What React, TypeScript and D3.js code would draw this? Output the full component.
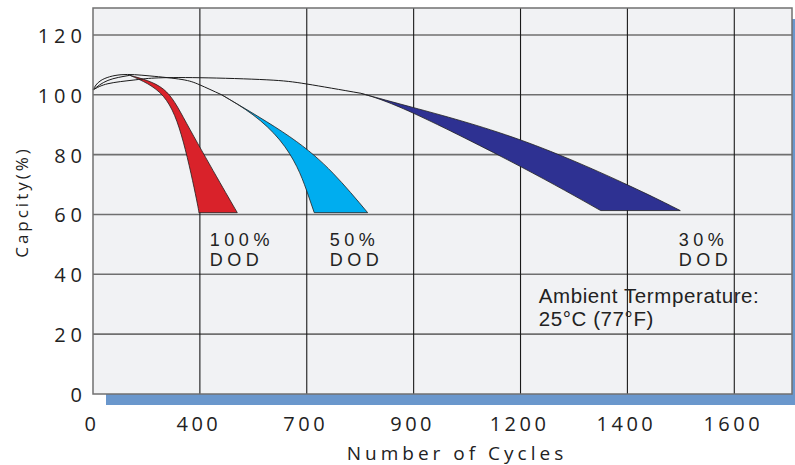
import { useEffect, useRef } from 'react';
import * as d3 from 'd3';

// x axis is not linear: each labelled cycle count gets one grid column
const xTicks = [0, 400, 700, 900, 1200, 1400, 1600];
const xEnd = 1708;
const yTicks = [0, 20, 40, 60, 80, 100, 120];
const yEnd = 129;

type Pt = [number, number]; // [cycles, capacity %]

// thin lines from the starting capacity up to each DOD band
const curveEarly: Pt[] = [[0, 101.6], [30, 104.8], [105, 106.7], [213, 106.3], [333, 105.1], [400, 103.3], [461, 100.0]];
const curveMid: Pt[] = [[0, 101.6], [56, 104.8], [138, 106.5]];
const curveLong: Pt[] = [[0, 101.6], [56, 103.7], [150, 104.9], [232, 105.6], [400, 105.7], [588, 105.0], [700, 103.6], [801, 100.5]];

// DOD bands: two edges from the shared top point down to the bottom
const redLeft: Pt[] = [[138, 106.5], [263, 99.5], [338, 84.2], [387, 65.2], [396, 60.6]];
const redRight: Pt[] = [[138, 106.5], [263, 101.9], [350, 90.5], [447, 72.6], [505, 60.6]];
const blueLeft: Pt[] = [[461, 100.0], [549, 93.3], [624, 84.9], [672, 76.0], [699, 68.2], [714, 60.6]];
const blueRight: Pt[] = [[461, 100.0], [652, 86.0], [749, 73.8], [814, 60.6]];
const navyLower: Pt[] = [[801, 100.5], [900, 93.8], [1200, 76.0], [1350, 61.3]];
const navyUpper: Pt[] = [[801, 100.5], [900, 95.7], [1200, 84.9], [1400, 69.9], [1499, 61.3]];

const dodNames = ['100%', '50%', '30%'];
const dodAt = [428, 743, 1496];
const bandColors = ['#d9222a', '#00adef', '#2e3192'];

export default function App() {
  const svgRef = useRef<SVGSVGElement>(null);

  useEffect(() => {
    if (!svgRef.current) return;
    const svg = d3.select(svgRef.current);
    svg.selectAll('*').remove();

    const width = 795;
    const height = 465;
    const margin = { top: 8, right: 3, bottom: 71, left: 93 };
    const w = width - margin.left - margin.right;
    const h = height - margin.top - margin.bottom;
    const step = w / (xTicks.length - 1 + (xEnd - 1600) / 200);

    svg.attr('width', width).attr('height', height);

    const xScale = d3.scaleLinear()
      .domain([...xTicks, xEnd])
      .range([...xTicks.map((_, i) => i * step), w]);
    const yScale = d3.scaleLinear().domain([0, yEnd]).range([h, 0]);

    const g = svg.append('g').attr('transform', `translate(${margin.left},${margin.top})`);

    // blue drop shadow + panel
    g.append('rect').attr('x', 13).attr('y', 11).attr('width', w).attr('height', h).attr('fill', '#6a97cc');
    g.append('rect').attr('width', w).attr('height', h).attr('fill', '#f1f2f4');

    // grid
    g.selectAll('.hgrid')
      .data(yTicks.slice(1))
      .enter().append('line')
      .attr('x1', 0).attr('x2', w)
      .attr('y1', d => yScale(d)).attr('y2', d => yScale(d))
      .attr('stroke', '#6f6f6f').attr('stroke-width', 1.6);

    g.selectAll('.vgrid')
      .data(xTicks.slice(1))
      .enter().append('line')
      .attr('x1', d => xScale(d)).attr('x2', d => xScale(d))
      .attr('y1', 0).attr('y2', h)
      .attr('stroke', '#1a1a1a').attr('stroke-width', 1.1);

    const line = d3.line<Pt>()
      .x(d => xScale(d[0]))
      .y(d => yScale(d[1]))
      .curve(d3.curveNatural);

    const band = (a: Pt[], b: Pt[]) =>
      (line(a) || '') + (line([...b].reverse()) || '').replace(/^M/, 'L') + 'Z';

    const bands = [[redLeft, redRight], [blueLeft, blueRight], [navyLower, navyUpper]];
    bands.forEach(([a, b], i) => {
      g.append('path')
        .attr('d', band(a, b))
        .attr('fill', bandColors[i])
        .attr('stroke', '#1f1f1f')
        .attr('stroke-width', 0.8)
        .attr('stroke-linejoin', 'round');
    });

    [curveEarly, curveMid, curveLong].forEach(c => {
      g.append('path')
        .datum(c)
        .attr('fill', 'none')
        .attr('stroke', '#1a1a1a')
        .attr('stroke-width', 1)
        .attr('d', line);
    });

    // panel border
    g.append('rect').attr('width', w).attr('height', h)
      .attr('fill', 'none').attr('stroke', '#707070').attr('stroke-width', 1.5);

    // tick labels
    const tickFont = "'Open Sans', 'DejaVu Sans', sans-serif";
    g.selectAll('.ylab')
      .data(yTicks)
      .enter().append('text')
      .attr('x', -11 + 5)
      .attr('y', d => yScale(d) + 8)
      .attr('text-anchor', 'end')
      .style('font-family', tickFont)
      .style('font-size', '20px')
      .style('letter-spacing', '5px')
      .style('fill', '#222')
      .text(d => d);

    g.selectAll('.xlab')
      .data(xTicks)
      .enter().append('text')
      .attr('x', d => xScale(d) - 1)
      .attr('y', h + 37)
      .attr('text-anchor', 'middle')
      .style('font-family', tickFont)
      .style('font-size', '20px')
      .style('letter-spacing', '3.5px')
      .style('fill', '#222')
      .text(d => d);

    // axis titles
    svg.append('text')
      .attr('x', 457)
      .attr('y', 460)
      .attr('text-anchor', 'middle')
      .style('font-family', tickFont)
      .style('font-size', '19px')
      .style('letter-spacing', '4px')
      .style('fill', '#222')
      .text('Number of Cycles');

    svg.append('text')
      .attr('transform', 'translate(28,202) rotate(-90)')
      .attr('text-anchor', 'middle')
      .style('font-family', tickFont)
      .style('font-size', '17px')
      .style('letter-spacing', '3px')
      .style('fill', '#222')
      .text('Capcity(%)');

    // DOD labels
    const labelFont = "'Liberation Sans', Arial, sans-serif";
    dodNames.forEach((name, i) => {
      const lx = xScale(dodAt[i]);
      [name, 'DOD'].forEach((s, k) => {
        g.append('text')
          .attr('x', lx)
          .attr('y', yScale(49.6) + k * 20.2)
          .style('font-family', labelFont)
          .style('font-size', '18px')
          .style('letter-spacing', '4.5px')
          .style('fill', '#222')
          .text(s);
      });
    });

    const amb = g.append('text')
      .attr('x', xScale(1234))
      .attr('y', yScale(30.4))
      .style('font-family', labelFont)
      .style('font-size', '20.5px')
      .style('letter-spacing', '0.6px')
      .style('fill', '#222');
    amb.append('tspan').attr('x', xScale(1234)).text('Ambient Termperature:');
    amb.append('tspan').attr('x', xScale(1234)).attr('dy', 22.7).text('25°C (77°F)');
  }, []);

  return (
    <svg
      ref={svgRef}
      style={{ position: 'absolute', left: 0, top: 0, display: 'block', background: '#fff' }}
    />
  );
}
